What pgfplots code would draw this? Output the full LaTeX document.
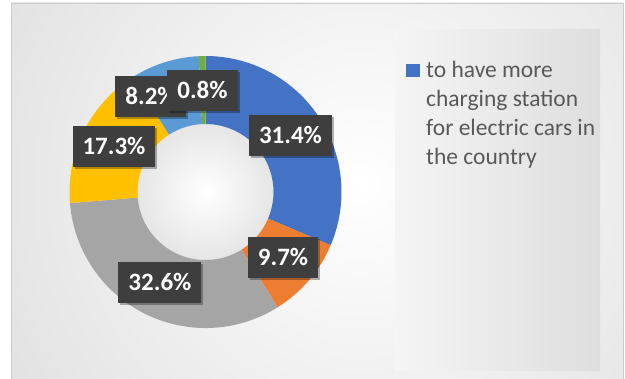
\documentclass[border=0pt]{standalone}
\usepackage{pgfplots}
\pgfplotsset{compat=1.18}
\usepackage{pgfplotstable}
\usepackage{fontspec}
\setmainfont{Carlito}
\usetikzlibrary{shadows}
\definecolor{c1}{HTML}{4472C4}
\definecolor{c2}{HTML}{ED7D31}
\definecolor{c3}{HTML}{A5A5A5}
\definecolor{c4}{HTML}{FFC000}
\definecolor{c5}{HTML}{5B9BD5}
\definecolor{c6}{HTML}{70AD47}
\definecolor{bggray}{HTML}{C4C4C4}
\definecolor{labbg}{HTML}{3E3E3E}
\definecolor{txtgray}{HTML}{595959}
\pgfplotstableread{
value color labx laby
31.4 c1 0.625 0.412
9.7 c2 0.570 -0.485
32.6 c3 -0.335 -0.669
17.3 c4 -0.673 0.335
8.2 c5 -0.404 0.699
0.8 c6 -0.022 0.746
}\piedata
\begin{document}
\begin{tikzpicture}
\useasboundingbox (0,0) rectangle (625bp,379bp);
\fill[white] (0,0) rectangle (625bp,379bp);
\begin{scope}
\clip (11bp,0) rectangle (623bp,376bp);
\shade[inner color=white, outer color=bggray] (360bp,195bp) circle (820bp);
\shade[left color=white!96!black, right color=white!87!black] (395bp,8bp) rectangle (600bp,349bp);
\shade[inner color=white, outer color=white!90!black] (205.5bp,187bp) circle (68bp);
\end{scope}
\draw[white!80!black, line width=0.6bp] (11bp,-1bp) -- (11bp,376bp) -- (623bp,376bp) -- (623bp,-1bp);
\begin{axis}[scale only axis, width=272bp, height=272bp,
  xmin=-1, xmax=1, ymin=-1, ymax=1, hide axis, clip=false,
  at={(69.5bp,51bp)}, anchor=south west]
\pgfplotstablegetrowsof{\piedata}
\pgfmathtruncatemacro\nrows{\pgfplotsretval-1}
\def\cum{0}
\pgfplotsforeachungrouped \i in {0,...,\nrows}{%
  \pgfplotstablegetelem{\i}{value}\of\piedata \let\v\pgfplotsretval
  \pgfplotstablegetelem{\i}{color}\of\piedata \let\c\pgfplotsretval
  \pgfmathsetmacro\a{90-3.6*\cum}%
  \pgfmathsetmacro\cum{\cum+\v}%
  \pgfmathsetmacro\b{90-3.6*\cum}%
  \edef\doit{\noexpand\fill[\c] ([shift={(\a:136bp)}]axis cs:0,0) arc[start angle=\a, end angle=\b, radius=136bp] -- ([shift={(\b:68bp)}]axis cs:0,0) arc[start angle=\b, end angle=\a, radius=68bp] -- cycle;}%
  \doit
}
\pgfplotsforeachungrouped \i in {0,...,\nrows}{%
  \pgfplotstablegetelem{\i}{value}\of\piedata \let\v\pgfplotsretval
  \pgfplotstablegetelem{\i}{labx}\of\piedata \let\lx\pgfplotsretval
  \pgfplotstablegetelem{\i}{laby}\of\piedata \let\ly\pgfplotsretval
  \edef\doit{\noexpand\node[fill=labbg, text=white, font=\noexpand\fontsize{25bp}{30bp}\noexpand\selectfont\noexpand\bfseries, inner xsep=10bp, inner ysep=0pt, minimum height=41bp, text height=16bp, text depth=0bp, drop shadow={shadow xshift=2bp, shadow yshift=-2bp, opacity=0.3, fill=black}] at (axis cs:\lx,\ly) {\v\noexpand\%};}%
  \doit
}
\end{axis}
\fill[c1] (406bp,301.7bp) rectangle (420bp,315bp);
\begin{scope}[every node/.style={anchor=base west, inner sep=0pt, text=txtgray, font=\fontsize{23.5bp}{29bp}\selectfont}]
\node at (426bp,301.7bp) {to have more};
\node at (426bp,272.7bp) {charging station};
\node at (426bp,243.7bp) {for electric cars in};
\node at (426bp,214.7bp) {the country};
\end{scope}
\end{tikzpicture}
\end{document}
